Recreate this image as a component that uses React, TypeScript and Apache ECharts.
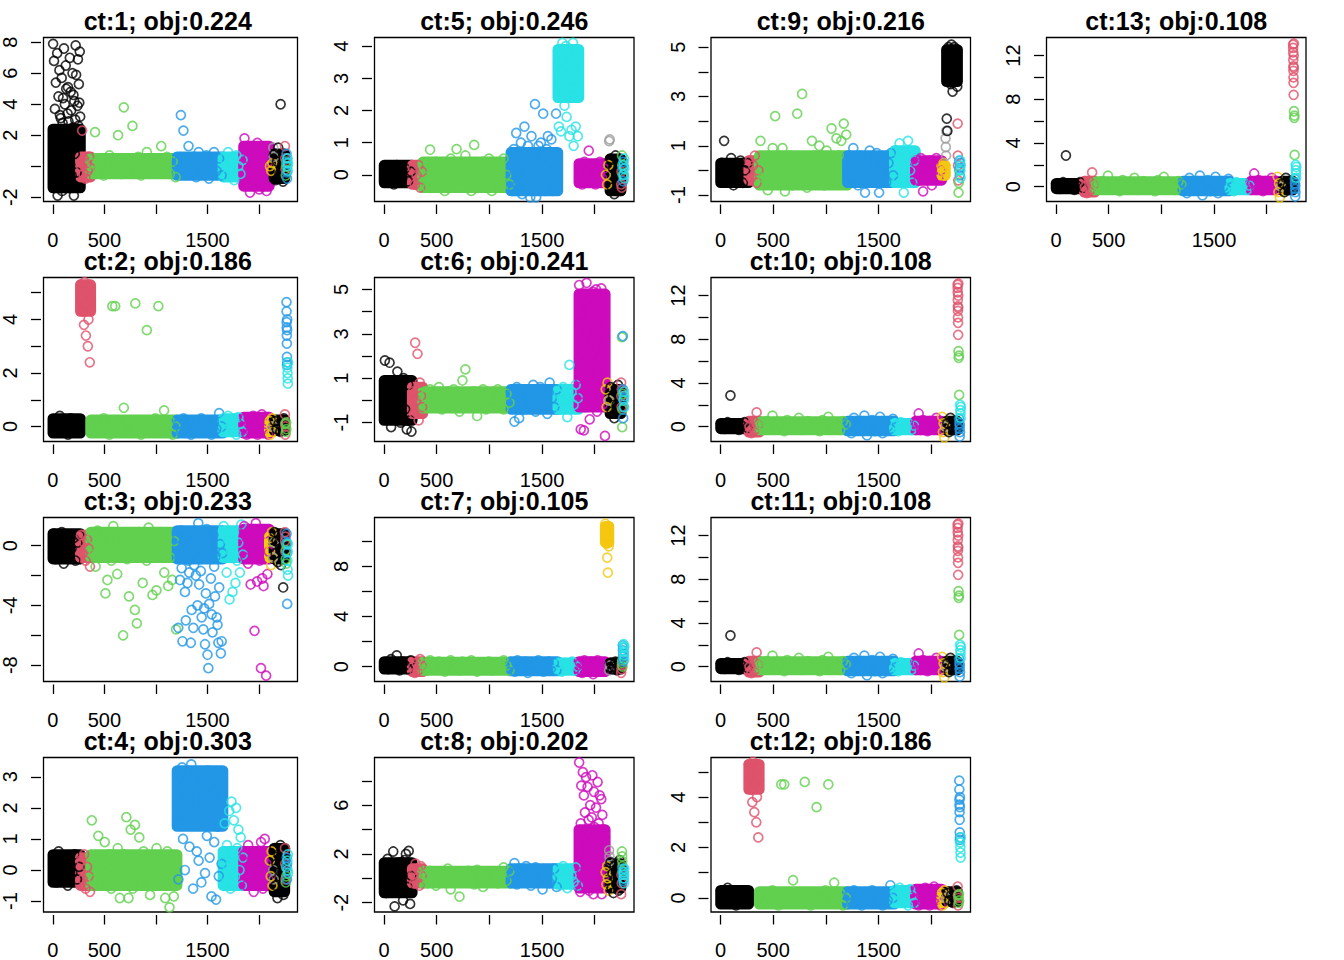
import * as echarts from 'echarts'
import React, { useEffect, useRef } from 'react'

const FONT = '"Liberation Sans", Arial, Helvetica, sans-serif'

// colours of the 13 clusters (R palette, recycled after 8)
const clusterColors = [
  '#000000', '#DF536B', '#61D04F', '#2297E6', '#28E2E5', '#CD0BBC', '#F5C710', '#9E9E9E',
  '#000000', '#DF536B', '#61D04F', '#2297E6', '#28E2E5'
]
// cells are sorted by cluster: index range of every cluster on the x axis
const clusterFrom = [1, 268, 368, 1205, 1650, 1850, 2100, 2135, 2145, 2250, 2258, 2266, 2274]
const clusterTo = [268, 368, 1205, 1650, 1850, 2100, 2135, 2145, 2250, 2258, 2266, 2274, 2282]

const titles = [
  'ct:1; obj:0.224', 'ct:2; obj:0.186', 'ct:3; obj:0.233', 'ct:4; obj:0.303',
  'ct:5; obj:0.246', 'ct:6; obj:0.241', 'ct:7; obj:0.105', 'ct:8; obj:0.202',
  'ct:9; obj:0.216', 'ct:10; obj:0.108', 'ct:11; obj:0.108', 'ct:12; obj:0.186',
  'ct:13; obj:0.108'
]

const xTicks = [0, 500, 1000, 1500, 2000]
const xLabels = [0, 500, 1500]

const yMin = [-2.28, -0.56, -9.09, -1.35, -0.83, -1.85, -1.19, -2.76, -1.26, -1.36, -1.36, -0.56, -1.36]
const yMax = [8.31, 5.57, 1.88, 3.62, 4.27, 5.54, 11.9, 9.91, 5.39, 13.65, 13.65, 5.57, 13.65]
const yTicks = [
  [-2, 0, 2, 4, 6, 8], [0, 1, 2, 3, 4, 5], [-8, -6, -4, -2, 0], [-1, 0, 1, 2, 3],
  [0, 1, 2, 3, 4], [-1, 0, 1, 2, 3, 4, 5], [0, 2, 4, 6, 8, 10], [-2, 0, 2, 4, 6, 8],
  [-1, 0, 1, 2, 3, 4, 5], [0, 2, 4, 6, 8, 10, 12], [0, 2, 4, 6, 8, 10, 12], [0, 1, 2, 3, 4, 5],
  [0, 2, 4, 6, 8, 10, 12]
]
// R drops labels that would crowd each other
const yLabels = [
  [-2, 2, 4, 6, 8], [0, 2, 4], [-8, -4, 0], [-1, 0, 1, 2, 3],
  [0, 1, 2, 3, 4], [-1, 1, 3, 5], [0, 4, 8], [-2, 2, 6],
  [-1, 1, 3, 5], [0, 4, 8, 12], [0, 4, 8, 12], [0, 2, 4],
  [0, 4, 8, 12]
]

// values per panel, one list per cluster, in cell order
const ct1 = [
  [7.9, 0.4, 6.8, -1.3, 3.7, 0.9, 5.4, -0.5, 2.3, 7.3, -1.9, 1.5, 4.5, 0.0, 6.2, 3.3, -0.8, 3.1, 1.1, 5.7, -1.6, 2.8, 4.4, 0.3, 7.6, -0.2, 4.0, 1.8, 6.5, 5.0, -1.0, 0.6, 3.4, 5.1, 2.9, -1.4, 2.0, 7.0, 0.1, 4.8, 3.6, -0.6, 1.3, 6.0, 2.5, 4.6, -1.9, 4.2, 0.8, 3.0, 7.8, 5.9, -0.4, 1.6, 3.9, 6.9, 2.6, 5.3, 4.1, 7.4, 3.2],
  [0.0, 2.3, -0.5, 0.4, -0.8, 0.2, -0.3, 0.6, -0.1],
  [0.2, 2.2, -0.4, 0.5, -0.6, 0.1, 0.7, -0.3, 0.3, 2.0, -0.5, 3.8, 0.4, 0.0, 2.6, -0.2, 0.6, -0.6, 0.2, 0.9, -0.3, 0.1, 0.5, -0.4, 1.3, 0.0, 0.6, -0.5, 0.3, -0.7],
  [0.3, 3.3, 2.3, -0.5, 1.3, -0.2, 0.6, -0.7, 0.9, 0.1, -0.4, 0.7, -0.8, 0.2, 0.9, -0.3, 0.5, -0.6],
  [0.5, -0.6, 0.9, -0.2, 0.3, -0.9, 0.7, 0.0, -0.5, 0.4],
  [1.8, -1.2, 0.5, -1.7, 1.2, 0.0, -0.8, 1.5, -1.5, 0.8, -0.3, 1.0, -1.6, 0.3],
  [0.0, -0.3, 0.2],
  [1.2, 0.6],
  [0.8, -0.9, 0.3, 1.2, -0.5, 4.0, 0.0, -1.0, 0.6],
  [1.3, 0.5, -0.2],
  [-0.6, 0.0, 0.3],
  [0.8, 0.2, -0.4, -0.8, 0.5],
  [0.5, 0.0, -0.3, 0.2]
]
const ct2 = [
  [0.2, -0.2, 0.4, -0.1, 0.1, -0.3, 0.3, 0.0, -0.2, 0.2],
  [5.3, 4.8, 5.1, 4.3, 4.9, 3.8, 5.4, 4.5, 3.4, 5.0, 4.6, 3.0, 4.0, 5.2, 2.4, 4.7],
  [0.1, -0.2, 0.2, -0.1, 0.3, 0.0, -0.3, 4.5, 4.5, 0.2, -0.1, 0.7, 0.1, -0.2, 0.0, 4.6, 0.1, -0.3, 0.2, 3.6, 0.0, -0.1, 0.3, 4.5, -0.2, 0.6, 0.1, 0.2, -0.3, 0.0],
  [0.1, -0.2, 0.3, -0.1, 0.2, -0.3, 0.0, 0.2, -0.1, 0.3, -0.2, 0.1, 0.0, -0.3, 0.2, -0.1, 0.5, 0.0],
  [0.2, -0.2, 0.4, 0.0, -0.1, 0.3, -0.3, 0.35, 0.1, -0.2],
  [0.3, -0.3, 0.1, -0.2, 0.4, 0.0, -0.3, 0.2, 0.45, -0.1, 0.1, -0.3],
  [0.2, -0.3, 0.0, 0.3, -0.2],
  [0.0],
  [0.2, -0.1, 0.1, -0.2, 0.0, 0.3],
  [0.45, 0.1, -0.3, 0.0],
  [0.1, -0.2, 0.15, -0.1],
  [4.65, 4.3, 3.9, 3.7, 3.4, 3.1, 2.6, 2.3, 3.6, 4.0, 2.4],
  [2.2, 2.0, 1.8, 1.6, 2.4]
]
const ct3 = [
  [0.8, -0.9, 0.3, -0.4, 0.9, -1.2, 0.1, 0.6, -0.7, -0.2, 0.5, -1.0, 0.2, 0.7],
  [0.7, -0.5, 0.2, -1.0, 0.4, -0.2, -1.4],
  [0.5, -0.6, -1.4, 1.0, 0.0, -0.8, 0.7, -3.2, -2.3, 0.3, -1.0, 1.3, 0.2, -1.9, -0.5, 0.8, -6.0, 0.1, -0.9, -3.4, 0.6, -0.3, -4.3, -5.2, 0.9, -0.7, -2.5, 0.4, -1.0, 1.2, -0.2, -3.3, 0.5, -3.0, -0.6, 0.9, 0.0, -1.8, 0.6, -2.7, -0.8, -2.3, 0.3, -5.6],
  [0.5, -5.5, -0.8, -2.3, 1.0, -1.5, -6.4, 0.2, -0.6, -3.1, -5.0, 0.8, -2.5, -1.0, -1.8, 0.3, -6.5, -4.3, 0.9, -5.5, -1.3, -0.4, -2.0, 0.6, -4.0, 1.5, -2.6, -0.9, -1.7, -4.8, 0.4, -5.6, -4.2, -6.6, -3.2, 1.1, -7.3, -8.2, -3.9, -0.2, -2.2, -4.6, -5.8, 0.7, -1.4, -3.4, -0.7, -4.8, -5.3, -6.5, -2.8, 0.1, -7.2, -6.4, -0.5],
  [1.3, -0.8, -1.8, 0.4, -3.6, -0.3, -3.1, 0.9, -2.5, -1.0, 0.2, -1.8, 1.4, -0.6],
  [1.3, -0.8, 0.5, -1.2, 1.0, -2.6, 0.0, -0.6, -5.7, 1.5, -2.4, 0.3, -1.0, -8.2, -2.2, -2.7, 0.8, -8.7, -1.9, -0.4],
  [0.5, -0.3, -1.3, 0.9, -0.8],
  [-0.8, 0.2],
  [0.9, -0.5, 0.3, -1.1, 0.7, -0.2, -1.3, 0.5, -2.8, 0.0],
  [0.9, 0.3, -0.4, 0.6],
  [-0.9, -0.3, 0.1, -1.2],
  [0.8, 0.2, -0.5, -3.9],
  [-1.0, -1.6, -0.4, 0.1, -2.0]
]
const ct4 = [
  [0.3, -0.4, 0.6, 0.0, -0.3, 0.4, -0.5, 0.2, -0.1, 0.5, -0.3, 0.1],
  [0.3, -0.3, 0.5, -0.6, 0.1, -0.2, -0.7],
  [1.6, -0.3, 0.4, 1.1, -0.5, 0.2, 0.9, -0.1, 0.5, -0.6, 0.3, -0.2, 0.7, -0.9, 0.1, 0.5, 1.7, -0.9, 1.3, -0.6, 1.45, 0.0, 1.05, -0.4, 0.6, 0.2, -0.5, -0.8, 0.4, -0.2, 0.7, -0.5, 0.3, 0.0, -0.9, 0.6, -1.2, -0.3, -0.85, 0.2],
  [2.4, -0.3, 3.0, 1.8, 2.7, 3.3, 1.0, 2.1, 0.0, 2.9, 1.6, 3.2, 2.5, 0.75, 2.0, 3.4, 2.8, -0.6, 1.7, 2.3, 3.1, 0.6, 2.6, 0.3, 1.9, 3.0, -0.4, 2.2, 1.5, 2.9, -0.1, 2.4, 1.1, 3.2, 2.0, 0.4, 2.7, -0.85, 1.8, 2.5, 0.9, 3.1, -0.95, 2.2, 1.4, -0.2, 2.8, 1.6, 0.2, 2.4],
  [0.3, 1.5, -0.4, 0.8, 0.1, 1.9, -0.6, 2.2, 0.5, 1.6, -0.2, 2.0, 0.7, 1.3, 0.0, 1.05, -0.5, 0.4],
  [0.5, -0.5, 0.8, -0.2, 0.3, -0.7, 0.6, 0.0, -0.4, 0.9, -0.6, 1.0, 0.2, -0.3],
  [0.3, -0.2, 0.6, -0.5],
  [0.0, -0.3],
  [0.7, -0.5, 0.2, -0.9, 0.5, -0.2, 0.8, -0.7, 0.0, -0.8, 0.4],
  [0.7, 0.2, -0.3],
  [-0.4, 0.1, -0.2],
  [0.1, 0.4, -0.3, 0.2],
  [0.3, 0.0, 0.5, -0.1]
]
const ct5 = [
  [0.2, -0.2, 0.1, -0.3, 0.3, 0.0, -0.1, 0.2, -0.2, 0.1],
  [0.2, -0.3, 0.0, 0.3, -0.4, 0.1],
  [0.2, -0.4, 0.78, 0.0, 0.4, -0.3, 0.3, -0.5, 0.1, 0.5, -0.2, 0.8, 0.3, -0.4, 0.6, 0.0, -0.5, 0.93, 0.2, -0.3, 0.4, -0.1, 0.5, -0.5, 0.1, 0.3, -0.4, 0.5, 0.0, -0.3],
  [0.3, -0.5, 0.8, 0.1, 1.3, -0.3, 0.6, 0.0, 1.0, -0.6, 0.5, 1.5, 0.2, -0.4, 0.9, 0.4, -0.7, 1.2, 0.0, 0.7, 2.2, -0.7, 0.3, 0.9, -0.2, 1.0, 0.5, 1.9, 0.1, -0.5, 0.8, 1.2, -0.2, 0.4, 1.1, -0.5, 0.6, 0.2, 1.9, -0.3],
  [3.5, 1.5, 3.9, 2.8, 1.35, 3.2, 4.1, 2.6, 3.7, 2.15, 3.0, 4.0, 1.8, 3.4, 2.5, 3.8, 1.2, 2.9, 3.6, 1.4, 3.3, 4.1, 0.9, 2.7, 3.5, 1.5, 2.4, 3.1, 1.2, 2.5],
  [0.2, -0.3, 0.4, 0.0, 0.75, -0.2, 0.3, -0.3, 0.1, 0.4, -0.1, 0.2],
  [0.0, -0.3, 0.3],
  [1.05, 1.1],
  [0.5, -0.4, 0.2, -0.6, 0.6, 0.0, -0.3, 0.4, -0.5],
  [-0.3, 0.1, -0.4],
  [0.6, 0.3, 0.0],
  [0.2, -0.2, 0.4, 0.0],
  [0.3, 0.0, 0.5, -0.1, 0.2]
]
const ct6 = [
  [1.8, -0.5, 0.6, 1.7, -1.2, 0.2, 0.9, -0.8, 1.3, 0.0, -1.0, 0.5, 1.0, -0.4, -1.3, 0.7, -0.9, -1.4],
  [0.4, -0.6, 2.6, 0.0, 2.1, -0.9, 0.8, 0.2, -0.3],
  [0.2, -0.3, 0.5, -0.1, 0.3, 0.6, -0.4, 0.1, 0.4, -0.2, 0.5, 0.0, -0.5, 0.9, 1.4, 0.2, -0.3, 0.4, -0.7, 0.1, 0.5, -0.4, 0.3, 0.0, -0.2, 0.5, 0.2, -0.4, 0.3, -0.1],
  [0.3, -0.95, 0.6, -0.8, 0.1, -0.4, 0.5, 0.0, -0.3, 0.7, -0.5, 0.2, 0.6, -0.2, 0.4, -0.6, 0.8, 0.1, -0.3, 0.5],
  [0.3, -0.4, 0.6, 0.0, -0.75, 1.6, 0.4, -0.2, 0.7, 0.1],
  [5.2, 1.0, 3.5, -1.3, 4.5, 2.2, 0.3, 3.9, 1.5, -1.35, 4.8, 2.7, -0.3, 3.1, 5.3, 1.8, 4.1, 0.6, 2.5, 3.7, -0.85, 4.6, 1.2, 2.9, 0.0, 3.3, 4.9, 1.6, 2.0, 4.3, 0.8, 3.0, 5.0, 2.4, -0.5, 3.6, 1.3, 4.4, 2.8, 0.4, 3.8, 1.9, 5.05, 2.6, -0.2, 3.2, 1.1, 4.0, 0.7, -1.6],
  [0.5, -0.3, 0.8, 0.0],
  [0.0],
  [0.6, -0.5, 0.2, -0.8, 0.4, -0.2, 0.7, -0.6, 0.0],
  [0.8, 0.2, -0.3, 0.5],
  [2.85, -1.2, -0.4, 0.3],
  [2.9, 0.5, -0.8, 0.1, -0.3],
  [0.0, 0.4, -0.3, 0.2]
]
const ct7 = [
  [0.3, -0.2, 0.6, 0.0, 0.9, -0.3, 0.4, 0.1, -0.2, 0.5],
  [0.0, -0.5, 0.3, -0.3, 0.6, 0.1],
  [0.2, -0.3, 0.5, 0.0, -0.2, 0.4, 0.1, -0.4, 0.3, 0.5, -0.1, 0.2, -0.3, 0.4, 0.0, -0.2, 0.5, 0.1, -0.4, 0.3, -0.1, 0.2, 0.4, -0.3, 0.0, 0.3, -0.2, 0.5, 0.1, -0.3],
  [0.2, -0.4, 0.5, 0.0, -0.2, 0.4, -0.5, 0.3, 0.1, -0.3, 0.5, 0.0, -0.4, 0.2, 0.4, -0.1, 0.3, -0.3],
  [0.2, -0.4, 0.3, -0.2, 0.1, 0.4, -0.3, 0.0],
  [0.3, -0.5, 0.5, 0.0, -0.3, 0.4, -0.6, 0.2, 0.5, -0.2, 0.1, -0.4],
  [11.4, 10.8, 10.2, 11.0, 9.8, 10.5, 8.7, 10.9, 7.5, 10.3, 11.2, 9.6],
  [-0.3, 0.1],
  [0.3, -0.2, 0.0, 0.4, -0.3, 0.1, 0.3],
  [-0.5, -0.2, 0.1],
  [0.3, 0.5, 0.0],
  [1.7, 1.3, 0.8, 0.4, 1.5, 1.0],
  [1.8, 1.5, 1.2, 0.9, 0.6, 1.6]
]
const ct8 = [
  [0.5, -1.2, 1.6, -0.5, 1.0, 0.0, 2.2, -2.3, 0.8, -1.0, 1.3, -0.3, 0.4, -1.8, 1.5, 2.0, -0.7, 2.25, -2.1, 0.2],
  [0.3, -0.4, 1.2, 0.0, 0.7, -0.6, 1.0, 0.2],
  [0.3, -0.4, 0.6, 0.0, -0.6, 0.5, 0.2, -0.3, 0.8, -0.9, 0.1, 0.4, -1.5, 0.3, -0.2, 0.6, 0.0, -0.5, 0.7, 0.2, -0.7, 0.4, -0.3, 0.5, 0.1, -0.4, 0.3, 0.9, -0.2, 0.6],
  [0.4, 1.25, -0.5, 0.8, 0.1, -0.3, 1.0, 0.5, -0.6, 0.3, 0.9, -0.2, 0.6, -0.9, 0.2, 0.7, -0.4, 0.0, 0.8, -0.7],
  [0.5, -0.5, 1.0, 0.0, -0.8, 0.7, 0.2, -0.3, 0.9, -0.6],
  [9.5, 2.0, -1.1, 4.5, 7.6, 0.5, 3.2, 8.7, 1.5, 6.8, -0.5, 5.4, 2.8, 8.3, 0.0, 3.9, 7.5, 1.1, 4.8, -1.0, 2.4, 6.0, 3.5, 0.8, 5.0, 8.45, 1.8, -1.3, 7.1, 4.2, 0.3, 2.6, 5.8, 1.3, 3.7, 7.9, -0.7, 4.5, 2.1, 6.8, 0.6, 3.0, 6.5, -1.3, 5.2, 1.6, 4.0, 2.9, 0.2, 3.4],
  [0.5, -0.5, 1.0, 0.0, -1.0],
  [2.3, 1.8, 1.4],
  [1.3, -0.8, 0.4, -1.2, 1.0, 0.0, -0.5, 0.8, -1.0, 1.5, 0.2],
  [-1.3, 0.3, -0.4],
  [2.2, 1.8, 1.4, 1.0, 0.6],
  [0.8, 0.3, -0.2, 0.5, 0.0],
  [0.5, 0.0, -0.4, 0.3, 0.8]
]
const ct9 = [
  [0.3, 1.2, -0.4, 0.1, 0.5, -0.6, 0.2, -0.2, 0.4, -0.5, 0.0, 0.3],
  [0.4, -0.3, 0.2, 0.6, -0.5, 0.0],
  [1.2, -0.3, 0.5, -0.8, 0.2, 0.9, 2.2, -0.5, 0.4, 0.9, -0.85, 0.1, 0.6, -0.6, 0.3, 2.3, -0.2, 3.1, 0.5, -0.7, 0.0, 1.2, 0.6, -0.4, 1.0, 0.3, -0.6, 0.8, 0.1, 1.7, -0.5, 1.3, 0.6, 1.2, 1.9, 1.45],
  [0.5, -0.3, 0.9, 0.1, -0.6, 0.6, 0.0, -0.9, 0.4, 0.8, -0.4, 0.2, 0.7, -0.9, 0.0, 0.5, -0.5, 0.3, 0.7, -0.2],
  [0.8, -0.4, 1.1, 0.2, -0.9, 0.6, 1.2, 0.0, -0.5, 0.4],
  [0.3, -0.4, 0.5, -0.85, 0.1, -0.2, 0.4, -0.6, 0.2, 0.5, -0.3, 0.0],
  [0.1, -0.2, 0.3, 0.0, -0.1],
  [1.3, 0.95, 0.6, 1.6],
  [2.1, 1.6, 4.5, 5.0, 3.8, 4.2, 4.8, 3.5, 5.1, 4.0, 3.2, 4.6, 3.9, 5.0, 4.3, 3.6, 4.9, 4.1, 3.4],
  [1.9, 0.6, 0.2, -0.4],
  [-0.9, -0.5, 0.0],
  [0.4, 0.1, -0.2, 0.3],
  [0.4, 0.0, -0.3, 0.2]
]
const ct10 = [
  [0.2, -0.2, 0.4, 2.85, 0.0, 0.3, -0.3, 0.1, 0.4, -0.1],
  [0.0, -0.6, 0.5, -0.3, 1.3, 0.2],
  [0.2, -0.3, 0.5, 0.0, 1.0, -0.2, 0.4, 0.1, -0.4, 0.6, 0.2, -0.1, 0.3, 0.8, -0.3, 0.0, 0.5, -0.2, 0.3, 0.1, -0.4, 0.6, 0.0, 0.9, -0.2, 0.4, 0.1, -0.3, 0.5, 0.2],
  [0.3, -0.6, 0.8, 0.0, -0.3, 0.5, 1.0, -0.8, 0.2, 0.6, -0.4, 0.1, 0.9, -0.6, 0.4, 0.0, -0.2, 0.7],
  [0.2, -0.4, 0.4, 0.0, -0.2, 0.3, -0.3, 0.1],
  [0.3, 1.2, -0.3, 0.6, 0.0, -0.4, 0.5, 0.2, -0.2, 0.8, 0.1, -0.3],
  [0.9, -0.5, 0.3, -1.0, 0.0],
  [0.0],
  [0.3, -0.5, 0.8, 0.0, -0.3, 0.5, -0.2],
  [13.0, 12.7, 12.3, 11.6, 11.0, 10.6, 10.0, 9.5, 8.4, 12.0, 10.9, 13.1],
  [6.9, 6.3, 6.5, 2.9],
  [0.7, 0.3, -0.2, -0.9, 0.1, -0.5],
  [2.0, 1.5, 1.2, 0.8, 1.8]
]
// ct:11, ct:12 and ct:13 repeat the profiles of ct:10 and ct:2 in the picture
const ct11 = ct10
const ct12 = ct2
const ct13 = ct10

// where the circles of a cluster pile up into a solid blob: [low, high], null = no blob
const ct1Core = [[-1.4, 2.4], [-0.7, 0.6], [-0.5, 0.5], [-0.6, 0.6], [-0.7, 0.6], [-1.3, 1.3], null, null, [-0.8, 0.8], null, null, null, null]
const ct2Core = [[-0.25, 0.3], [4.3, 5.3], [-0.25, 0.25], [-0.25, 0.25], [-0.2, 0.3], [-0.25, 0.35], [-0.2, 0.2], null, [-0.15, 0.25], null, null, null, null]
const ct3Core = [[-0.9, 0.8], [-0.8, 0.7], [-0.8, 0.9], [-0.9, 1.0], [-0.8, 1.0], [-0.9, 1.1], [-0.8, 0.6], null, [-0.9, 0.8], null, null, null, null]
const ct4Core = [[-0.4, 0.5], [-0.5, 0.4], [-0.5, 0.5], [1.4, 3.2], [-0.5, 0.6], [-0.5, 0.6], null, null, [-0.7, 0.7], null, null, null, null]
const ct5Core = [[-0.25, 0.3], [-0.3, 0.3], [-0.4, 0.4], [-0.5, 0.7], [2.4, 3.9], [-0.25, 0.35], null, null, [-0.5, 0.5], null, null, null, null]
const ct6Core = [[-0.9, 0.9], [-0.6, 0.6], [-0.35, 0.4], [-0.4, 0.5], [-0.4, 0.5], [-0.3, 4.8], null, null, [-0.6, 0.5], null, null, null, null]
const ct7Core = [[-0.2, 0.4], [-0.4, 0.4], [-0.3, 0.35], [-0.35, 0.4], [-0.3, 0.3], [-0.4, 0.4], [9.9, 11.2], null, [-0.2, 0.3], null, null, null, null]
const ct8Core = [[-1.2, 1.3], [-0.4, 0.8], [-0.4, 0.6], [-0.4, 0.8], [-0.5, 0.8], [-0.8, 4.0], null, null, [-0.8, 1.2], null, null, null, null]
const ct9Core = [[-0.5, 0.3], [-0.4, 0.4], [-0.6, 0.6], [-0.5, 0.6], [-0.5, 0.8], [-0.4, 0.4], [-0.2, 0.2], null, [3.6, 4.9], null, null, null, null]
const ct10Core = [[-0.2, 0.3], [-0.5, 0.5], [-0.3, 0.45], [-0.4, 0.5], [-0.3, 0.3], [-0.3, 0.5], null, null, [-0.3, 0.5], null, null, null, null]
const ct11Core = ct10Core
const ct12Core = ct2Core
const ct13Core = ct10Core

const panels = [ct1, ct2, ct3, ct4, ct5, ct6, ct7, ct8, ct9, ct10, ct11, ct12, ct13]
const cores = [ct1Core, ct2Core, ct3Core, ct4Core, ct5Core, ct6Core, ct7Core, ct8Core, ct9Core, ct10Core, ct11Core, ct12Core, ct13Core]

const colLeft = [38, 374.5, 711, 1046.5]
const rowTop = [37.5, 277.5, 517.5, 757.5]
const boxW = 259.5
const boxH = 164
const RING = 9
const RING_W = 1.7

const App: React.FC = () => {
  const chartRef = useRef<HTMLDivElement>(null)

  useEffect(() => {
    const chart = echarts.init(chartRef.current!, null, { renderer: 'svg' })
    const grid: any[] = []
    const xAxis: any[] = []
    const yAxis: any[] = []
    const series: any[] = []
    const graphic: any[] = []
    const half = (RING + RING_W) / 2

    panels.forEach((clusters, k) => {
      const left = colLeft[Math.floor(k / 4)]
      const top = rowTop[k % 4]
      grid.push({
        left, top, width: boxW, height: boxH,
        show: true, borderColor: '#000', borderWidth: 1.3, backgroundColor: 'rgba(0,0,0,0)'
      })
      xAxis.push({
        type: 'value', gridIndex: k, min: -90, max: 2373, position: 'bottom', offset: 3,
        axisLine: { show: false, onZero: false },
        axisTick: { show: true, length: 9.5, customValues: xTicks, lineStyle: { color: '#000', width: 1.3 } },
        axisLabel: {
          customValues: xLabels, margin: 25, fontSize: 20, color: '#000', fontFamily: FONT,
          formatter: (v: number) => String(v)
        },
        splitLine: { show: false }
      })
      yAxis.push({
        type: 'value', gridIndex: k, min: yMin[k], max: yMax[k], position: 'left', offset: 2.5,
        axisLine: { show: false, onZero: false },
        axisTick: { show: true, length: 10, customValues: yTicks[k], lineStyle: { color: '#000', width: 1.3 } },
        axisLabel: {
          customValues: yLabels[k], rotate: 90, margin: 21, fontSize: 20, color: '#000', fontFamily: FONT,
          formatter: (v: number) => String(v)
        },
        splitLine: { show: false }
      })
      clusters.forEach((ys, c) => {
        const from = clusterFrom[c]
        const to = clusterTo[c]
        const color = clusterColors[c]
        const core = cores[k][c]
        if (core) {
          // overlapping circles merge into a solid patch
          series.push({
            type: 'custom', xAxisIndex: k, yAxisIndex: k, silent: true, clip: true,
            data: [[from, core[0], to, core[1]]],
            renderItem: (_p: any, api: any) => {
              const a = api.coord([api.value(0), api.value(3)])
              const b = api.coord([api.value(2), api.value(1)])
              return {
                type: 'rect',
                shape: { x: a[0] - half, y: a[1] - half, width: b[0] - a[0] + 2 * half, height: b[1] - a[1] + 2 * half, r: half },
                style: { fill: color }
              }
            }
          })
        }
        series.push({
          type: 'scatter', xAxisIndex: k, yAxisIndex: k, silent: true, clip: true,
          symbol: 'circle', symbolSize: RING,
          itemStyle: { color: 'rgba(0,0,0,0)', borderColor: color, borderWidth: RING_W },
          data: ys.map((y, i) => [from + ((i + 0.5) * (to - from)) / ys.length, y])
        })
      })
      graphic.push({
        type: 'text', x: left + boxW / 2, y: top - 17, silent: true,
        style: {
          text: titles[k], fill: '#000', fontSize: 25, fontWeight: 'bold', fontFamily: FONT,
          align: 'center', verticalAlign: 'middle', textAlign: 'center', textVerticalAlign: 'middle'
        }
      })
    })

    chart.setOption({
      animation: false,
      backgroundColor: '#fff',
      grid, xAxis, yAxis, series, graphic
    })
    return () => {
      chart.dispose()
    }
  }, [])

  return <div ref={chartRef} style={{ position: 'absolute', left: 0, top: 0, width: 1344, height: 960 }} />
}

export default App
